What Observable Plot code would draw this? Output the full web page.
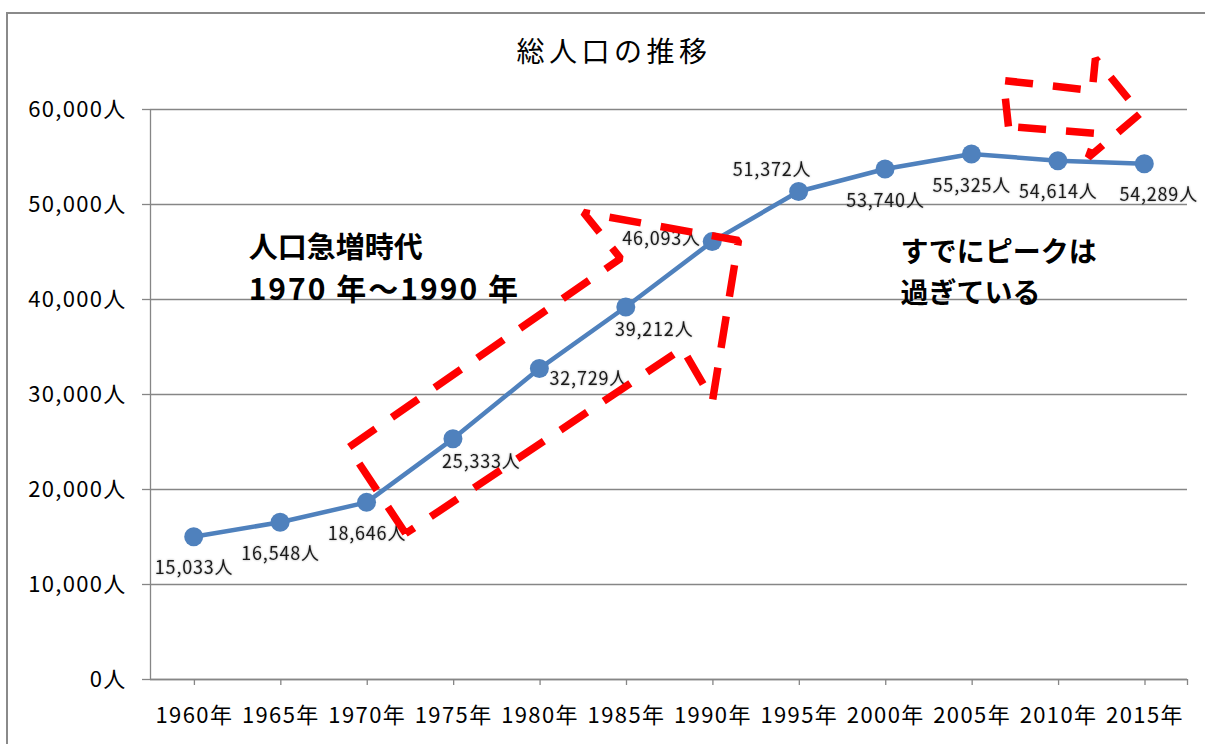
<!DOCTYPE html>
<html>
<head>
<meta charset="utf-8">
<script src="https://cdn.jsdelivr.net/npm/d3@7"></script>
<script src="https://cdn.jsdelivr.net/npm/@observablehq/plot@0.6"></script>
<style>
  html, body { margin: 0; padding: 0; background: #fff; }
  #wrap { position: relative; width: 1205px; height: 744px; overflow: hidden; }
  #frame { position: absolute; left: 6px; top: 12px; width: 1400px; height: 900px;
           border-left: 2px solid #8a8a8a; border-top: 2px solid #8a8a8a; }
  #chart { position: absolute; left: 0; top: 0; }
  .dlab text { filter: drop-shadow(0.6px 0.8px 0.8px rgba(0,0,0,0.35)); letter-spacing: 0.8px; }
  .ttl text { letter-spacing: 4.5px; }
  .yax text { letter-spacing: 1.3px; }
  .xax text { letter-spacing: 1.4px; }
  .boom2 text { letter-spacing: 2px; }
</style>
</head>
<body>
<div id="wrap"><div id="frame"></div><div id="chart"></div></div>
<script>
// ---- data ----
const chartTitle = "総人口の推移";
const years = [1960, 1965, 1970, 1975, 1980, 1985, 1990, 1995, 2000, 2005, 2010, 2015];
const population = [15033, 16548, 18646, 25333, 32729, 39212, 46093, 51372, 53740, 55325, 54614, 54289];
const yTicks = [0, 10000, 20000, 30000, 40000, 50000, 60000];

// annotation arrows (in data units: year, population)
const boomArrowYears = [1972.26, 1968.96, 1984.7, 1982.55, 1991.52, 1990.02, 1988.28];
const boomArrowPops  = [15368, 24421, 44316, 49158, 46211, 29368, 34842];
const peakArrowYears = [2007.14, 2006.85, 2011.99, 2012.17, 2014.77, 2011.76, 2012.28];
const peakArrowPops  = [58211, 63053, 62000, 65368, 59579, 54947, 57474];

// annotation texts
const boomText1 = "人口急増時代";
const boomText2 = "1970 年～1990 年";
const boomTextAt1 = {year: 1963.18, pop: 45350};
const boomTextAt2 = {year: 1963.18, pop: 40950};
const peakText = "すでにピークは\n過ぎている";
const peakTextAt = {year: 2000.89, pop: 43150};

// ---- build ----
const data = years.map((y, i) => ({year: y, pop: population[i]}));
const closed = (xs, ys) => xs.concat([xs[0]]).map((x, i) => ({year: x, pop: ys.concat([ys[0]])[i]}));
const boomArrow = closed(boomArrowYears, boomArrowPops);
const peakArrow = closed(peakArrowYears, peakArrowPops);
const fmt = d3.format(",");
const pick = (ys) => data.filter(d => ys.includes(d.year));

const FONT = "'Noto Sans CJK JP', 'Noto Sans', sans-serif";
const gray = "#868686";
const blue = "#4f81bd";
const red = "#ff0000";

const labelOpts = (dx, dy) => ({x: "year", y: "pop", text: d => fmt(d.pop) + "人",
  dx: dx + 0.4, dy, fontSize: 18, fill: "#1a1a1a", className: "dlab"});

const chart = Plot.plot({
  width: 1205,
  height: 744,
  marginLeft: 150,
  marginRight: 18,
  marginTop: 109,
  marginBottom: 65,
  style: {fontFamily: FONT, background: "transparent", color: "#000", overflow: "visible"},
  x: {domain: [1957.5, 2017.5], axis: null},
  y: {domain: [0, 60000], axis: null},
  marks: [
    Plot.gridY(yTicks, {stroke: gray, strokeOpacity: 1, strokeWidth: 1.3}),
    Plot.ruleX([1957.5], {y1: 0, y2: 60000, stroke: gray, strokeWidth: 1.3}),
    Plot.ruleY([0], {stroke: gray, strokeWidth: 1.3}),
    Plot.ruleX([2017.5], {y1: 0, y2: 0, insetBottom: -6, stroke: gray, strokeWidth: 1.3}),
    Plot.axisY({ticks: yTicks, tickFormat: d => fmt(d) + "人", tickSize: 8, tickPadding: 16,
      fontSize: 22, className: "yax", stroke: gray, strokeWidth: 1.3, strokeOpacity: 1, fill: "#000", label: null}),
    Plot.axisX({ticks: years, tickFormat: d => d + "年", tickSize: 6, tickPadding: 22, dx: 0.7,
      fontSize: 22, className: "xax", stroke: gray, strokeWidth: 1.3, strokeOpacity: 1, fill: "#000", label: null}),
    Plot.text([chartTitle], {frameAnchor: "top", dx: -55, dy: -56, fontSize: 28, lineAnchor: "middle",
      fill: "#000", className: "ttl"}),
    Plot.line(data, {x: "year", y: "pop", stroke: blue, strokeWidth: 4.5}),
    Plot.dot(data, {x: "year", y: "pop", r: 9.5, fill: blue, stroke: "none"}),
    Plot.text(pick([1960, 1965, 1970, 2000, 2005, 2010]), labelOpts(0, 32)),
    Plot.text(pick([2015]), labelOpts(14, 31)),
    Plot.text(pick([1975, 1985]), labelOpts(28, 23)),
    Plot.text(pick([1980]), labelOpts(49, 11)),
    Plot.text(pick([1990]), labelOpts(-51, -2)),
    Plot.text(pick([1995]), labelOpts(-27, -21)),
    Plot.text([boomTextAt1], {x: "year", y: "pop", text: () => boomText1, textAnchor: "start",
      lineAnchor: "middle", fontSize: 29, fontWeight: "bold", fill: "#000"}),
    Plot.text([boomTextAt2], {x: "year", y: "pop", text: () => boomText2, textAnchor: "start",
      lineAnchor: "middle", fontSize: 30, fontWeight: "bold", fill: "#000", className: "boom2"}),
    Plot.text([peakTextAt], {x: "year", y: "pop", text: () => peakText, textAnchor: "start",
      lineAnchor: "middle", lineHeight: 1.45, fontSize: 28, fontWeight: "bold", fill: "#000"}),
    Plot.line(boomArrow, {x: "year", y: "pop", stroke: red, strokeWidth: 7.5,
      strokeDasharray: "32,20", strokeLinejoin: "miter", strokeLinecap: "butt"}),
    Plot.line(peakArrow, {x: "year", y: "pop", stroke: red, strokeWidth: 7.5,
      strokeDasharray: "28,20", strokeLinejoin: "miter", strokeLinecap: "butt"})
  ]
});
document.getElementById("chart").appendChild(chart);
</script>
</body>
</html>
